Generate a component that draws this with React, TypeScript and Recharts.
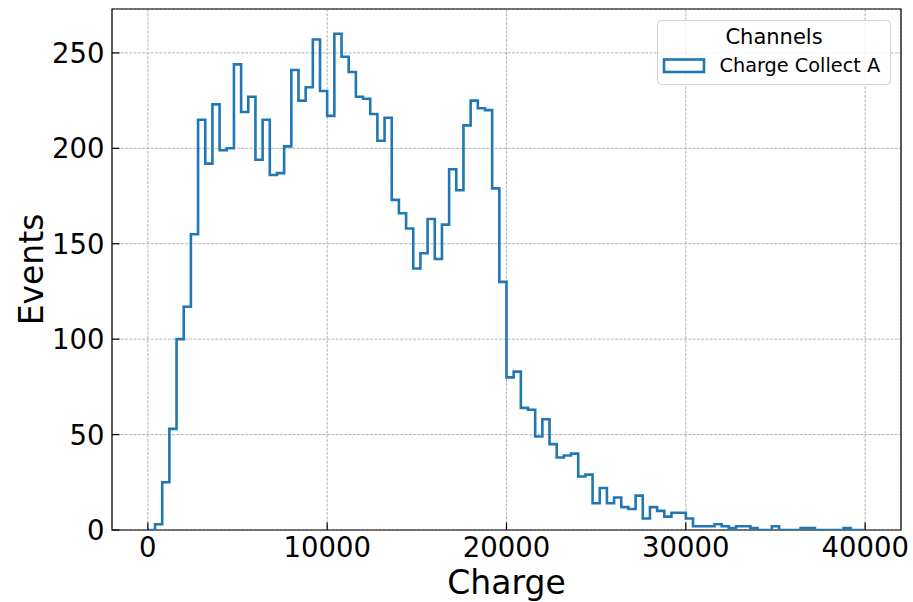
import React from 'react';
import {
  ComposedChart,
  Line,
  XAxis,
  YAxis,
  CartesianGrid,
  ReferenceArea,
  Legend,
  Label,
} from 'recharts';

// ---- data ----
const BIN_WIDTH = 400;
const counts: number[] = [
  0, 3, 25, 53, 100, 117, 155, 215, 192, 223,
  199, 200, 244, 219, 227, 194, 215, 186, 187, 201,
  241, 225, 232, 257, 230, 217, 260, 248, 240, 227,
  226, 218, 204, 216, 173, 166, 158, 137, 145, 163,
  142, 160, 189, 178, 212, 225, 221, 220, 179, 130,
  80, 83, 64, 63, 49, 58, 45, 38, 39, 40,
  28, 29, 14, 22, 14, 17, 12, 11, 18, 6,
  12, 10, 7, 9, 9, 6, 2, 2, 2, 3,
  2, 1, 2, 2, 1, 0, 0, 2, 0, 0,
  0, 1, 1, 0, 0, 0, 0, 1, 0, 0,
];
const xTicks = [0, 10000, 20000, 30000, 40000];
const yTicks = [0, 50, 100, 150, 200, 250];
const X_DOMAIN: [number, number] = [-2000, 42000];
const Y_DOMAIN: [number, number] = [0, 273];
const SERIES_NAME = 'Charge Collect A';
const LEGEND_TITLE = 'Channels';
const X_LABEL = 'Charge';
const Y_LABEL = 'Events';

// histogram outline (step) built from bin edges + counts
const lastEdge = counts.length * BIN_WIDTH;
const stepData = [
  { x: 0, y: 0 },
  ...counts.map((c, i) => ({ x: i * BIN_WIDTH, y: c })),
  { x: lastEdge, y: counts[counts.length - 1] },
  { x: lastEdge, y: 0 },
];

const FONT = '"DejaVu Sans", sans-serif';
const BLUE = '#1f77b4';

const XTick = (props: any) => {
  const { x, y, payload } = props;
  return (
    <g>
      <line x1={x} x2={x} y1={y} y2={y - 7.5} stroke="#000" strokeWidth={1.2} />
      <text x={x} y={y + 26.8} textAnchor="middle" fontSize={27.5} fontFamily={FONT} fill="#000">
        {payload.value}
      </text>
    </g>
  );
};

const YTick = (props: any) => {
  const { x, y, payload } = props;
  return (
    <g>
      <line x1={x} x2={x + 7.5} y1={y} y2={y} stroke="#000" strokeWidth={1.2} />
      <text x={x - 7.5} y={y + 10} textAnchor="end" fontSize={27.5} fontFamily={FONT} fill="#000">
        {payload.value}
      </text>
    </g>
  );
};

const XLabel = (props: any) => {
  const vb = props.viewBox || { x: 112, y: 530, width: 789, height: 72 };
  return (
    <text x={vb.x + vb.width / 2} y={vb.y + 63.5} textAnchor="middle" fontSize={33} fontFamily={FONT} fill="#000">
      {X_LABEL}
    </text>
  );
};

const YLabel = (props: any) => {
  const vb = props.viewBox || { x: 0, y: 9, width: 112, height: 521 };
  const cx = 43;
  const cy = vb.y + vb.height / 2;
  return (
    <text
      x={cx}
      y={cy}
      transform={`rotate(-90, ${cx}, ${cy})`}
      textAnchor="middle"
      fontSize={33}
      fontFamily={FONT}
      fill="#000"
    >
      {Y_LABEL}
    </text>
  );
};

const renderLegend = (props: any) => {
  const item = props.payload && props.payload[0];
  const name = item ? item.value : SERIES_NAME;
  const color = item && item.color ? item.color : BLUE;
  return (
    <svg width={235} height={66} style={{ display: 'block', overflow: 'visible' }}>
      <rect x={0.5} y={0.5} width={233} height={64} rx={4} ry={4} fill="rgba(255,255,255,0.8)" stroke="#d4d4d4" strokeWidth={1} />
      <text x={117} y={23.5} textAnchor="middle" fontSize={21} fontFamily={FONT} fill="#000">
        {LEGEND_TITLE}
      </text>
      <rect x={7} y={39.5} width={40} height={12.5} fill="#fff" stroke={color} strokeWidth={2.6} />
      <text x={62.5} y={52.3} fontSize={19.3} fontFamily={FONT} fill="#000">
        {name}
      </text>
    </svg>
  );
};

export default function App() {
  return (
    <div style={{ position: 'absolute', left: 0, top: 0, width: 913, height: 602, background: '#fff' }}>
      <ComposedChart
        width={913}
        height={602}
        data={stepData}
        margin={{ top: 9, right: 12, bottom: 0, left: 0 }}
      >
        <CartesianGrid stroke="#aaaaaa" strokeDasharray="3 1.3" strokeWidth={0.9} />
        <XAxis
          type="number"
          dataKey="x"
          domain={X_DOMAIN}
          ticks={xTicks}
          allowDataOverflow
          height={72}
          axisLine={false}
          tickLine={false}
          tickSize={0}
          tickMargin={0}
          tick={<XTick />}
          interval={0}
        >
          <Label content={<XLabel />} />
        </XAxis>
        <YAxis
          type="number"
          domain={Y_DOMAIN}
          ticks={yTicks}
          allowDataOverflow
          width={112}
          axisLine={false}
          tickLine={false}
          tickSize={0}
          tickMargin={0}
          tick={<YTick />}
          interval={0}
        >
          <Label content={<YLabel />} />
        </YAxis>
        <Line
          type="stepAfter"
          dataKey="y"
          name={SERIES_NAME}
          stroke={BLUE}
          strokeWidth={2.6}
          strokeLinejoin="miter"
          dot={false}
          activeDot={false}
          isAnimationActive={false}
        />
        <ReferenceArea
          x1={X_DOMAIN[0]}
          x2={X_DOMAIN[1]}
          y1={Y_DOMAIN[0]}
          y2={Y_DOMAIN[1]}
          fill="none"
          stroke="#000"
          strokeWidth={1.2}
          ifOverflow="visible"
        />
        <Legend
          layout="vertical"
          align="center"
          verticalAlign="middle"
          wrapperStyle={{ left: 657, top: 20, width: 235, height: 66 }}
          content={renderLegend}
        />
      </ComposedChart>
    </div>
  );
}
